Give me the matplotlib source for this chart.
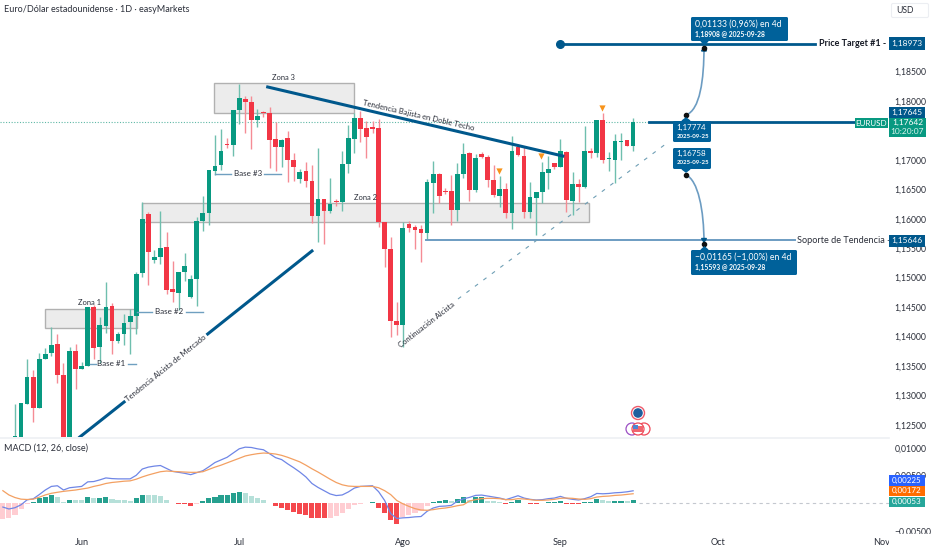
import matplotlib
matplotlib.use("Agg")
import matplotlib.pyplot as plt
import numpy as np
from matplotlib.patches import Rectangle, PathPatch, Circle, FancyBboxPatch
from matplotlib.path import Path
from matplotlib.ticker import FuncFormatter

plt.rcParams['font.family'] = ['Lato', 'DejaVu Sans']

# ---- candles, in 1e-5 price units; first bar is index 0 ----
opens = [112272,112200,112849,113307,112781,113624,113715,113868,113341,112200,113755,113449,113506,114507,113817,114179,114519,113930,114043,114241,114349,115085,116075,115305,115356,115521,114802,114734,115096,114666,114977,115968,116103,116811,116913,117269,117253,117847,118034,117977,117677,117813,117796,117354,117213,117366,116998,116675,116805,116636,
 116048,116342,116132,116308,116285,116931,117361,117717,117542,117564,117542,115946,115487,114259,114191,115912,115861,115821,115764,116608,116755,116478,116466,116144,116761,117117,116483,117100,117049,116664,116393,116500,116098,117225,117072,116115,116359,116455,116772,116942,116885,117134,116308,116591,116546,117157,117112,117678,117010,117004,117310,117338,117242]
highs = [112849,112877,113613,113432,113726,113800,114156,114038,113545,113828,113873,113574,114507,114536,114326,114926,114564,114083,114377,114462,115102,116290,116120,115470,116132,115781,115283,115102,115419,115045,116036,116387,116828,117422,117519,117377,117847,118288,118085,118085,117858,117835,117892,117649,117354,117490,117122,116839,116958,116913,
 117196,116342,116698,116336,117157,117593,117791,117836,117666,117666,117695,115946,115697,114582,115951,115963,115895,115895,116670,116981,116772,116517,116744,116953,117281,117140,117100,117140,117078,116914,116727,116613,117406,117264,117213,116630,116455,116959,117066,116953,117349,117146,116800,116676,117581,117208,117678,117791,117134,117440,117463,117338,117712]
lows = [112200,112150,112849,112543,112781,113624,113670,113217,112150,112150,113104,113449,113506,113624,113545,114055,113704,113896,113851,113704,114043,115017,114875,115243,115226,114722,114592,114451,114949,114649,114524,115792,115894,116743,116828,117207,117066,117609,117462,117179,117564,117734,116856,116817,116885,116630,116647,116602,116545,115922,
 115612,115566,116104,116223,116138,116783,117112,117298,117027,117451,115855,115176,113999,114027,113829,115770,115487,115266,115640,116093,116274,116415,115895,115968,116698,116302,116461,117027,116546,116376,116206,116008,115821,117066,116008,116019,115725,116263,116500,116846,116874,116121,116064,116291,116517,117027,117055,116953,116812,116613,116998,117242,117157]
closes = [112311,112866,113307,112792,113613,113704,113851,113341,112200,113755,113455,113506,114507,113811,114196,114507,113924,114043,114236,114343,115062,116002,115441,115351,115504,114790,114751,115096,115204,114971,115968,116103,116828,116902,117156,117247,117847,118045,117983,117677,117745,117801,117343,117213,117343,116998,116885,116800,116636,116053,
 116336,116132,116257,116280,116931,117378,117717,117530,117395,117530,115946,115487,114270,114191,115838,115844,115815,115764,116619,116755,116387,116455,116149,116755,117100,116483,117027,117044,116664,116404,116500,116098,117157,117078,116115,116370,116455,116795,116840,116880,117146,116313,116585,116540,117157,117112,117678,117001,117027,117315,117327,117242,117638]

# ---- MACD, in 1e-5 units; first value is index -2 ----
hist_values = [-286,-263,-204,-97,-15,21,91,115,156,121,27,68,65,63,121,97,100,121,80,56,54,38,91,150,148,145,127,56,9,-15,-18,-50,-9,32,97,121,150,156,192,204,192,139,97,68,9,-50,-86,-127,-156,-192,-215,-263,-265,-274,-263,-227,-168,-97,-38,-15,9,21,-86,-174,-304,-369,-245,-204,-174,-133,-50,21,44,56,44,80,109,
 65,106,108,47,41,30,-12,30,59,2,-18,-20,-2,18,24,47,-6,-12,-14,18,30,77,53,35,41,42,38,53]
macd_values = [-68,-103,-80,-27,62,80,156,239,304,316,239,280,292,304,386,392,422,457,445,440,440,440,504,617,652,670,681,628,575,558,540,516,552,587,658,735,782,829,906,982,1012,1006,982,965,894,823,788,711,640,563,475,357,286,227,168,139,150,204,274,304,310,316,209,50,-186,-274,-263,-257,-245,-239,-145,-86,-56,-50,-38,38,80,
 106,142,148,130,112,94,65,100,136,94,71,59,65,83,94,124,89,71,59,83,118,177,171,177,189,195,207,225]
signal_values = [227,150,103,74,68,74,109,150,180,198,215,227,239,257,274,304,327,357,375,386,398,404,434,475,510,540,569,581,575,569,563,558,558,569,611,652,687,729,770,811,853,876,894,906,900,888,864,829,788,746,687,622,563,499,434,375,333,310,304,304,304,304,280,227,156,50,-9,-56,-97,-121,-127,-115,-97,-86,-68,-44,-27,
 41,65,83,89,89,83,65,65,83,77,65,53,53,59,71,89,94,89,77,71,83,112,124,130,142,148,160,172]

month_labels = ['Jun', 'Jul', 'Ago', 'Sep', 'Oct', 'Nov']
month_bars = [11, 37, 64, 90, 116, 143]
price_ticks = [1.125, 1.13, 1.135, 1.14, 1.145, 1.15, 1.155, 1.16, 1.165, 1.17, 1.18, 1.185]
macd_ticks = [-0.005, 0.005, 0.01]

zones = [('Zona 3', 32.8, 55.9, 1.17801, 1.18306),
         ('Zona 2', 21.0, 94.7, 1.15945, 1.16260),
         ('Zona 1', 5.0, 20.1, 1.14146, 1.14468)]
target_level, last_level, support_level = 1.18973, 1.17642, 1.15646
alert_bars = [79.9, 86.8, 96.9]
alert_prices = [1.16811, 1.17066, 1.17886]

GREEN, RED = '#089981', '#f23645'
NAVY = '#00588c'
LINEBLUE = '#6c9cc2'
BOX = '#00619a'
TXT = '#2a2e39'

W, H = 932, 550
fig = plt.figure(figsize=(W/100, H/100), dpi=100, facecolor='white')
def rect(l, t, r, b):
    return [l/W, 1-b/H, (r-l)/W, (b-t)/H]

ax = fig.add_axes(rect(0, 0, 889, 437))
mx = fig.add_axes(rect(0, 438, 889, 531))
ov = fig.add_axes([0, 0, 1, 1], zorder=10)
ov.set_xlim(0, W); ov.set_ylim(H, 0); ov.axis('off'); ov.patch.set_alpha(0)

xlim = (-15/6.06, 874/6.06)
ax.set_xlim(*xlim); mx.set_xlim(*xlim)
ax.set_ylim(1.18 - 336*0.0001698, 1.18 + 101*0.0001698)
mx.set_ylim(-26.5/5650, 66.5/5650)

o, h, l, c = [np.array(a)/1e5 for a in (opens, highs, lows, closes)]
idx = np.arange(len(o))
up = c >= o
wick = np.where(up, '#6fbfae', '#f58c95')
ax.vlines(idx, l, h, colors=wick, lw=1.0, zorder=2)
ax.bar(idx, np.abs(c-o), bottom=np.minimum(o, c), width=0.78,
       color=np.where(up, GREEN, RED), zorder=3, linewidth=0)

for name, x0, x1, y0, y1 in zones:
    ax.add_patch(Rectangle((x0, y0), x1-x0, y1-y0, facecolor='#e9e9e9', edgecolor='#a6a6a6',
                           lw=1.0, alpha=0.85, zorder=1))

ax.axhline(last_level, color='#5fb8a6', lw=0.8, ls=(0, (1, 1.5)), zorder=1)
ax.plot([89.9, 132.0], [target_level]*2, color=NAVY, lw=2.0, zorder=4)
ax.plot([89.9], [target_level], 'o', color=NAVY, ms=5.5, zorder=5)
ax.plot([104.6, 138.8], [last_level]*2, color=NAVY, lw=2.0, zorder=4)
ax.plot([67.8, 128.7], [support_level]*2, color=LINEBLUE, lw=1.4, zorder=4)
ax.plot([41.7, 90.4], [1.18238, 1.17066], color=NAVY, lw=2.2, zorder=4)
ax.plot([10.7, 18.0], [1.12295, 1.12889], color=NAVY, lw=2.2, zorder=4)
ax.plot([31.8, 49.0], [1.14044, 1.15453], color=NAVY, lw=2.2, zorder=4)
ax.plot([73.1, 107.6], [1.14638, 1.17287], color='#6f9fb5', lw=0.8, ls=(0, (3.5, 6)), zorder=4)
ax.scatter(alert_bars, alert_prices, marker='v', s=20, color='#f7931a', zorder=5, linewidth=0)

ax.set_yticks(price_ticks)
ax.yaxis.tick_right()
ax.yaxis.set_major_formatter(FuncFormatter(lambda v, p: f'{v:.5f}'.replace('.', ',')))
ax.tick_params(axis='y', length=0, pad=4, labelsize=6.2, labelcolor=TXT)
ax.set_xticks([])
for s in ax.spines.values():
    s.set_visible(False)

# MACD pane
hist = np.array(hist_values)/1e5
hx = np.arange(len(hist)) - 2
prev = np.r_[hist[0]-1e-4, hist[:-1]]
cols = []
for v, pv in zip(hist, prev):
    if v >= 0:
        cols.append('#26a08f' if v >= pv else '#b6e0d9')
    else:
        cols.append('#ffcdd2' if v >= pv else '#f5484d')
mx.bar(hx, hist, width=0.84, color=cols, linewidth=0, zorder=2)
mx.plot(hx, np.array(macd_values)/1e5, color='#6f86e6', lw=0.9, zorder=3)
mx.plot(hx, np.array(signal_values)/1e5, color='#f3a062', lw=0.9, zorder=3)
mx.plot([103, xlim[1]], [0, 0], color='#c4c8cf', lw=0.8, ls=(0, (3, 3)), zorder=1)
mx.set_yticks(macd_ticks)
mx.yaxis.tick_right()
mx.yaxis.set_major_formatter(FuncFormatter(lambda v, p: f'{v:.5f}'.replace('.', ',').replace('-', '\u2212')))
mx.tick_params(axis='y', length=0, pad=4, labelsize=6.2, labelcolor=TXT)
mx.set_xticks(month_bars)
mx.set_xticklabels(month_labels)
mx.tick_params(axis='x', length=0, pad=5, labelsize=6.6, labelcolor=TXT)
for s in mx.spines.values():
    s.set_visible(False)
ov.plot([0, 889], [437.5, 437.5], color='#eef0f4', lw=1.2)
ov.add_patch(Rectangle((889, 534), 43, 16, facecolor='white', edgecolor='none'))

# overlay text
def t(x, y, s, size=6, color=TXT, ha='center', va='center', rot=0, weight='normal'):
    return ov.text(x, y, s, fontsize=size, color=color, ha=ha, va=va, rotation=rot,
                   rotation_mode='anchor', fontweight=weight)

t(4, 9, 'Euro/Dólar estadounidense · 1D · easyMarkets', 6.5, ha='left')
t(4, 448, 'MACD (12, 26, close)', 6.5, ha='left')
t(283.5, 77, 'Zona 3', 5.4)
t(365.5, 197, 'Zona 2', 5.4)
t(89, 302.5, 'Zona 1', 5.4)
t(419, 115, 'Tendencia Bajista en Doble Techo', 5.5, rot=-13)
t(166, 368, 'Tendencia Alcista de Mercado', 5.5, rot=39)
t(427, 325, 'Continuación Alcista', 5.5, rot=38)
for name, y, tx, a, b, c1, d in [('Base #1', 364, 111.5, 90, 96, 128, 136),
                                 ('Base #2', 312, 169.5, 137, 152, 186, 203),
                                 ('Base #3', 173.7, 248, 215, 231, 264, 281)]:
    t(tx, y, name, 5.8)
    ov.plot([a, b], [y, y], color='#6f9fc0', lw=1)
    ov.plot([c1, d], [y, y], color='#6f9fc0', lw=1)
t(819, 44, 'Price Target #1 -', 6.5, ha='left', color='#131722', weight='bold')
t(797, 240.5, 'Soporte de Tendencia -', 6.6, ha='left')

# curved arrows and dots
for (x0, y0, cx0, cy0, cx1, cy1, x1, y1) in [(686, 115, 700, 110, 704, 80, 704, 47),
                                              (686, 175, 698, 180, 704, 210, 704, 243)]:
    ov.add_patch(PathPatch(Path([(x0, y0), (cx0, cy0), (cx1, cy1), (x1, y1)],
                                [Path.MOVETO, Path.CURVE4, Path.CURVE4, Path.CURVE4]),
                           facecolor='none', edgecolor=LINEBLUE, lw=1.2))
    ov.plot([x0], [y0], 'o', color='#111111', ms=3)
ov.plot([704], [47.5], 'o', color='#111111', ms=3)
ov.plot([704], [244], 'o', color='#111111', ms=3)
ov.fill([701.5, 706.5, 704], [51, 51, 47.5], color=NAVY)
ov.fill([701.5, 706.5, 704], [238.5, 238.5, 242], color=NAVY)

def box(l, t_, r, b, color=BOX, rad=1.5):
    ov.add_patch(FancyBboxPatch((l+rad, t_+rad), r-l-2*rad, b-t_-2*rad,
                                boxstyle=f'round,pad={rad},rounding_size={rad}',
                                facecolor=color, edgecolor='none', zorder=5))

box(691, 17, 788, 41)
ov.fill([701, 708, 704.5], [41, 41, 44.5], color=BOX, zorder=5)
t(695, 24.5, '0,01133 (0,96%) en 4d', 6.2, 'white', ha='left').set_zorder(6)
t(695, 34.5, '1,18908 @ 2025-09-28', 4.9, 'white', ha='left', weight='bold').set_zorder(6)
box(673, 121, 711, 142)
ov.fill([682, 690, 686], [121, 121, 118], color=BOX, zorder=5)
t(676.5, 127.5, '1,17774', 5.8, 'white', ha='left').set_zorder(6)
t(676.5, 136, '2025-09-25', 4.4, 'white', ha='left', weight='bold').set_zorder(6)
box(673, 148, 711, 169)
ov.fill([682, 690, 686], [169, 169, 172], color=BOX, zorder=5)
t(676.5, 153.5, '1,16758', 5.8, 'white', ha='left').set_zorder(6)
t(676.5, 162.5, '2025-09-25', 4.4, 'white', ha='left', weight='bold').set_zorder(6)
box(691, 250, 797, 275)
ov.fill([701, 708, 704.5], [250, 250, 247], color=BOX, zorder=5)
t(695, 257.5, '\u22120,01165 (\u22121,00%) en 4d', 6.2, 'white', ha='left').set_zorder(6)
t(695, 267.5, '1,15593 @ 2025-09-28', 4.9, 'white', ha='left', weight='bold').set_zorder(6)

# right axis price tags
def tag(l, t_, r, b, color, s, size=6.0, weight='normal'):
    ov.add_patch(Rectangle((l, t_), r-l, b-t_, facecolor=color, edgecolor='none', zorder=7))
    ov.text((l+r)/2, (t_+b)/2, s, fontsize=size, color='white', ha='center', va='center',
            zorder=8, fontweight=weight)

tag(889, 37, 925, 50, NAVY, '1,18973')
tag(889, 107, 925, 118, NAVY, '1,17645')
ov.add_patch(Rectangle((889, 118), 37, 19, facecolor=GREEN, edgecolor='none', zorder=7))
ov.text(907.5, 122.5, '1,17642', fontsize=6.0, color='white', ha='center', va='center', zorder=8)
ov.text(907.5, 131.5, '10:20:07', fontsize=6.0, color='#d8f3ec', ha='center', va='center', zorder=8)
tag(855, 118, 888, 128, GREEN, 'EURUSD', size=5.8)
tag(889, 234.5, 925, 246.5, NAVY, '1,15646')
tag(889, 474.5, 925, 485.5, '#2962ff', '0,00225', size=5.8)
tag(889, 485.5, 925, 496, '#ff6d00', '0,00172', size=5.8)
tag(889, 496.5, 925, 507, '#26a69a', '0,00053', size=5.8)

ov.add_patch(FancyBboxPatch((892, 4), 36, 13, boxstyle='round,pad=0.5,rounding_size=1.5',
                            facecolor='white', edgecolor='#eceef2', lw=0.8))
t(896.5, 10.5, 'USD', 6.2, ha='left')

# event markers
ov.add_patch(Circle((638, 413), 6.5, facecolor='white', edgecolor='#ef5a6a', lw=1, zorder=3))
ov.add_patch(Circle((638, 413), 4.8, facecolor='#1f5f9e', edgecolor='none', zorder=4))
for cx, ec in [(632, '#9c4fc4'), (644, '#ef4a5a'), (638, '#ef4a5a')]:
    ov.add_patch(Circle((cx, 429), 6, facecolor='white', edgecolor=ec, lw=0.9, zorder=3))
ov.add_patch(Rectangle((633, 426), 10, 6, facecolor='#f0656f', edgecolor='none', zorder=4))
ov.add_patch(Rectangle((633, 425), 5, 3.5, facecolor='#4f83d1', edgecolor='none', zorder=5))

fig.savefig('out.png', dpi=100, facecolor='white')
